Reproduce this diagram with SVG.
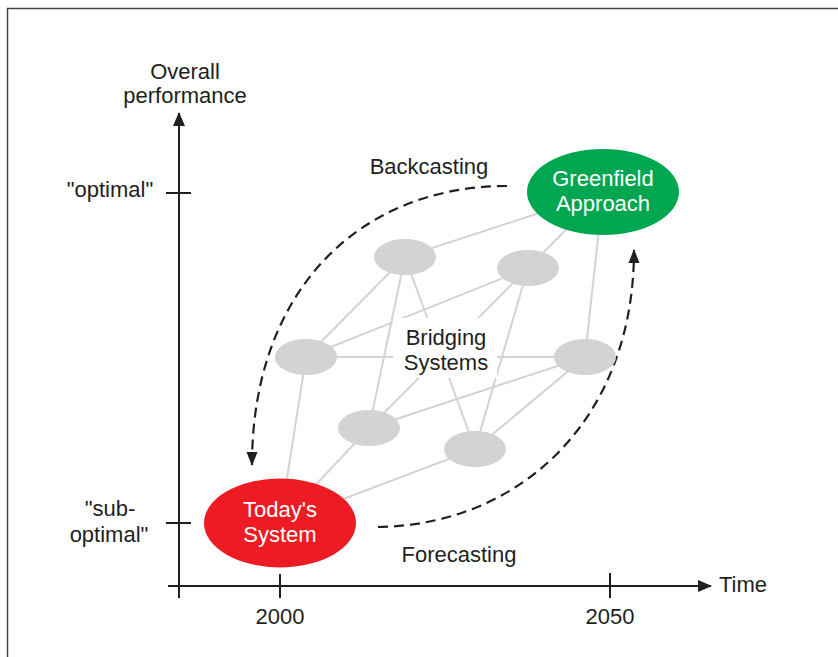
<svg xmlns="http://www.w3.org/2000/svg" width="838" height="657" viewBox="0 0 838 657">
<defs>
<style>
text{font-family:"Liberation Sans",Arial,sans-serif;font-size:22px;fill:#231f20;text-anchor:middle}
.w{fill:#fff}
.axis{stroke:#231f20;stroke-width:2;fill:none}
.link{stroke:#d1d3d4;stroke-width:2}
.dash{stroke:#231f20;stroke-width:2.2;fill:none;stroke-dasharray:10 6}
.gray{fill:#d1d3d4}
</style>
<marker id="ah" viewBox="0 0 14 14" refX="13" refY="7" markerWidth="14" markerHeight="14" markerUnits="userSpaceOnUse" orient="auto">
<path d="M0,1 L14,7 L0,13 Z" fill="#231f20"/>
</marker>
<marker id="dh" viewBox="0 0 14 12" refX="13" refY="6" markerWidth="14" markerHeight="12" markerUnits="userSpaceOnUse" orient="auto">
<path d="M0,0.5 L14,6 L0,11.5 Z" fill="#231f20"/>
</marker>
</defs>
<rect width="838" height="657" fill="#fff"/>
<path d="M7.5,657 V8.5 H838" stroke="#444" stroke-width="1.5" fill="none"/>

<g id="axes">
<line class="axis" x1="179" y1="598" x2="179" y2="113" marker-end="url(#ah)"/>
<line class="axis" x1="168" y1="586" x2="711" y2="586" marker-end="url(#ah)"/>
<line class="axis" x1="166" y1="193" x2="191" y2="193"/>
<line class="axis" x1="166" y1="523" x2="191" y2="523"/>
<line class="axis" x1="280" y1="574" x2="280" y2="598"/>
<line class="axis" x1="610" y1="573" x2="610" y2="598"/>
<text x="185" y="79">Overall</text>
<text x="185" y="103">performance</text>
<text x="110" y="197">"optimal"</text>
<text x="110" y="516">"sub-</text>
<text x="109" y="542">optimal"</text>
<text x="280" y="624">2000</text>
<text x="610" y="624">2050</text>
<text x="719" y="592" style="text-anchor:start">Time</text>
</g>

<g id="connectors">
<line class="link" x1="405" y1="257" x2="603" y2="192"/>
<line class="link" x1="528" y1="268" x2="603" y2="192"/>
<line class="link" x1="585" y1="357" x2="603" y2="192"/>
<line class="link" x1="405" y1="257" x2="306" y2="357"/>
<line class="link" x1="405" y1="257" x2="369" y2="428"/>
<line class="link" x1="405" y1="257" x2="475" y2="449"/>
<line class="link" x1="528" y1="268" x2="306" y2="357"/>
<line class="link" x1="528" y1="268" x2="369" y2="428"/>
<line class="link" x1="528" y1="268" x2="475" y2="449"/>
<line class="link" x1="306" y1="357" x2="585" y2="357"/>
<line class="link" x1="585" y1="357" x2="369" y2="428"/>
<line class="link" x1="585" y1="357" x2="475" y2="449"/>
<line class="link" x1="306" y1="357" x2="280" y2="523"/>
<line class="link" x1="369" y1="428" x2="280" y2="523"/>
<line class="link" x1="475" y1="449" x2="280" y2="523"/>
<path class="dash" d="M507,186 C360,186 252,290 252,465" marker-end="url(#dh)"/>
<path class="dash" d="M378,527 C520,525 634,420 634,250" marker-end="url(#dh)"/>
</g>

<g id="bridging">
<rect x="393" y="318" width="104" height="60" fill="#fff"/>
<text x="446" y="345">Bridging</text>
<text x="446" y="370">Systems</text>
</g>
<g id="b1"><ellipse class="gray" cx="405" cy="257" rx="31" ry="18"/></g>
<g id="b2"><ellipse class="gray" cx="528" cy="268" rx="31" ry="18"/></g>
<g id="b3"><ellipse class="gray" cx="306" cy="357" rx="31" ry="18"/></g>
<g id="b4"><ellipse class="gray" cx="585" cy="357" rx="31" ry="18"/></g>
<g id="b5"><ellipse class="gray" cx="369" cy="428" rx="31" ry="18"/></g>
<g id="b6"><ellipse class="gray" cx="475" cy="449" rx="31" ry="18"/></g>

<g id="today">
<ellipse cx="280" cy="523" rx="76" ry="44.5" fill="#ed1c24"/>
<text class="w" x="280" y="517">Today's</text>
<text class="w" x="280" y="542">System</text>
</g>
<g id="greenfield">
<ellipse cx="603" cy="192" rx="76" ry="43" fill="#00a650"/>
<text class="w" x="603" y="186">Greenfield</text>
<text class="w" x="603" y="211">Approach</text>
</g>
<g id="labels">
<text x="429" y="174">Backcasting</text>
<text x="459" y="562">Forecasting</text>
</g>
</svg>
